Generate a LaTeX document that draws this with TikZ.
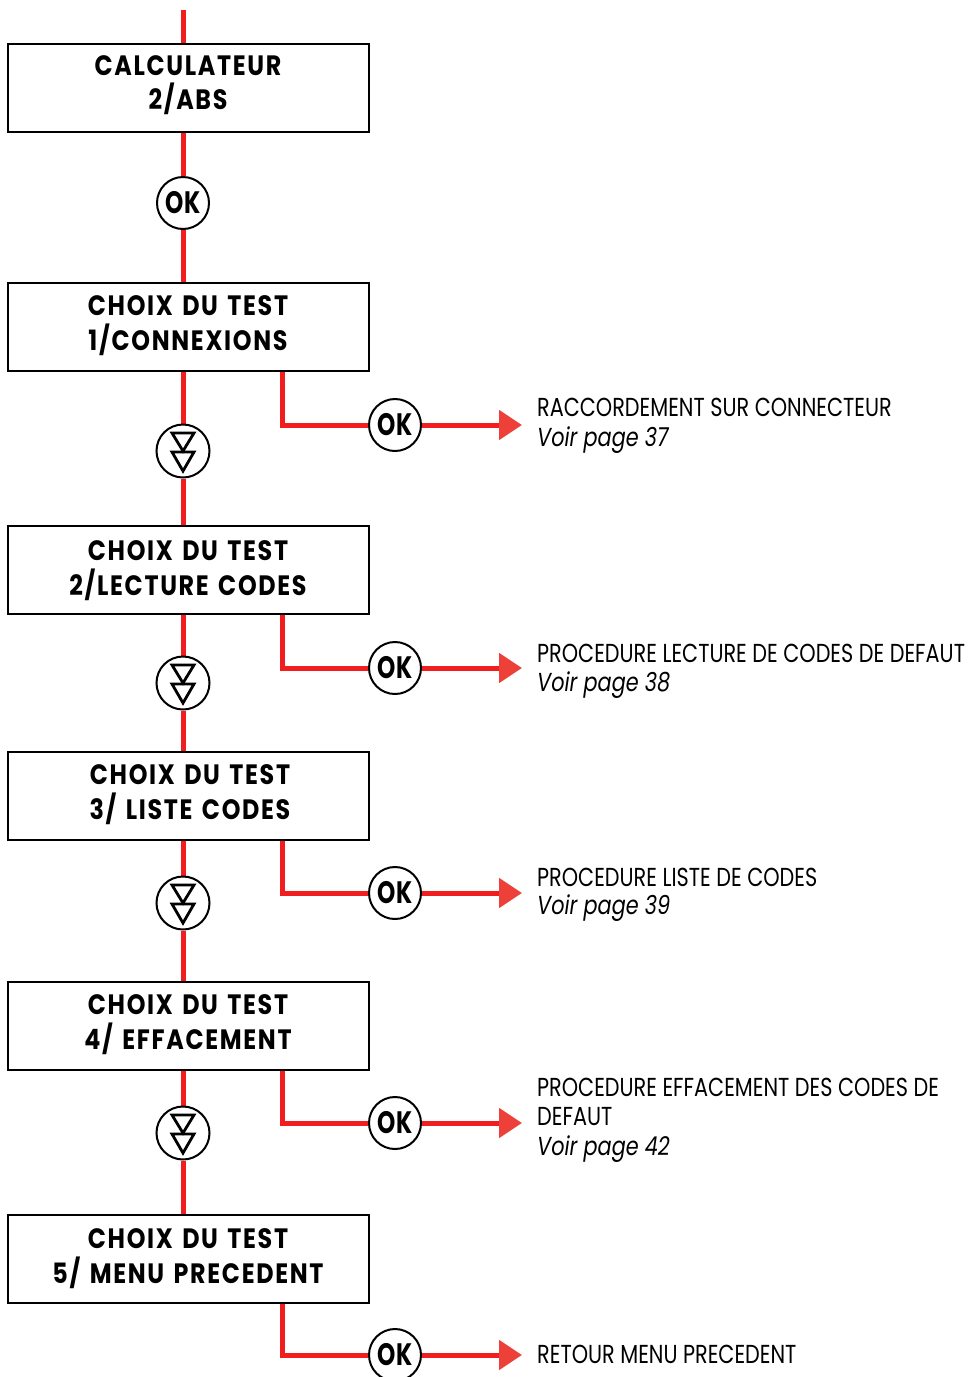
\documentclass[tikz,border=0pt]{standalone}
\usepackage{fontspec}
\usetikzlibrary{arrows.meta,backgrounds}
\newfontfamily\boxfont{Poppins}[FakeStretch=0.85,LetterSpace=6,WordSpace=1.4]
\newfontfamily\okfont{Poppins}[FakeStretch=0.75]
\newfontfamily\sidefont{Poppins}[FakeStretch=0.80]
\definecolor{lred}{RGB}{240,30,30}
\definecolor{ared}{RGB}{236,64,56}
\tikzset{
  redline/.style={draw=lred, line width=5pt},
  boxnode/.style={draw=black, line width=2.8pt, minimum width=361pt, minimum height=88pt, inner sep=0pt},
  btext/.style={anchor=base, inner sep=0pt, font=\boxfont\bfseries\fontsize{28}{30}\selectfont},
  okc/.style={circle, draw=black, line width=2pt, fill=white, minimum size=52pt, inner sep=0pt, font=\okfont\bfseries\fontsize{31}{31}\selectfont},
  dnc/.style={circle, draw=black, line width=2pt, fill=white, minimum size=53pt, inner sep=0pt},
  stext/.style={anchor=base west, inner sep=0pt, font=\sidefont\fontsize{26}{29}\selectfont},
  arr/.style={-{Triangle[length=23pt,width=29pt,color=ared]}},
  trisym/.style={draw=black, line width=2.8pt, line join=miter}
}
\newcommand\dnsym[1]{\begin{scope}[shift={(#1)}]
  \draw[trisym] (-11,-18) -- (11,-18) -- (0,0) -- cycle;
  \draw[trisym] (-11,1) -- (11,1) -- (0,20) -- cycle;
\end{scope}}
\begin{document}
\begin{tikzpicture}[x=1pt,y=-1pt]
\useasboundingbox (0,0) rectangle (968,1377);
% boxes
\node[boxnode] (b1) at (188.5,88) {};
\node[boxnode] (b2) at (188.5,327) {};
\node[boxnode] (b3) at (188.5,570) {};
\node[boxnode] (b4) at (188.5,796) {};
\node[boxnode] (b5) at (188.5,1026) {};
\node[boxnode] (b6) at (188.5,1259) {};
% box texts
\node[btext] (t1a) at (188,75) {CALCULATEUR};
\node[btext] (t1b) at (188,109) {2/ABS};
\node[btext] (t2a) at (188,315) {CHOIX DU TEST};
\node[btext] (t2b) at (188,350) {1/CONNEXIONS};
\node[btext] (t3a) at (188,560) {CHOIX DU TEST};
\node[btext] (t3b) at (188,595) {2/LECTURE CODES};
\node[btext] (t4a) at (190,784) {CHOIX DU TEST};
\node[btext] (t4b) at (190,819) {3/ LISTE CODES};
\node[btext] (t5a) at (188,1014) {CHOIX DU TEST};
\node[btext] (t5b) at (188,1049) {4/ EFFACEMENT};
\node[btext] (t6a) at (188,1248) {CHOIX DU TEST};
\node[btext] (t6b) at (188,1283) {5/ MENU PRECEDENT};
% circles on main line
\node[okc] (ok1) at (183,203) {OK};
\node[dnc] (d1) at (183,451) {};
\node[dnc] (d2) at (183,683) {};
\node[dnc] (d3) at (183,903) {};
\node[dnc] (d4) at (183,1133) {};
\dnsym{d1}
\dnsym{d2}
\dnsym{d3}
\dnsym{d4}
% branch circles
\node[okc] (okA) at (395,425) {OK};
\node[okc] (okB) at (395,668) {OK};
\node[okc] (okC) at (395,893) {OK};
\node[okc] (okD) at (395,1123) {OK};
\node[okc] (okE) at (395,1355) {OK};
% coordinates
\coordinate (start) at (183,10);
\coordinate (br) at (282,0);
\coordinate (tipA) at (522,425);
\coordinate (tipB) at (522,668);
\coordinate (tipC) at (522,893);
\coordinate (tipD) at (522,1123);
\coordinate (tipE) at (522,1355);
% right texts
\node[stext] (rA1) at (537,416) {RACCORDEMENT SUR CONNECTEUR};
\node[stext] (rA2) at (537,446) {\itshape Voir page 37};
\node[stext] (rB1) at (537,662) {PROCEDURE LECTURE DE CODES DE DEFAUT};
\node[stext] (rB2) at (537,691) {\itshape Voir page 38};
\node[stext] (rC1) at (537,886) {PROCEDURE LISTE DE CODES};
\node[stext] (rC2) at (537,914) {\itshape Voir page 39};
\node[stext] (rD1) at (537,1096) {PROCEDURE EFFACEMENT DES CODES DE};
\node[stext] (rD2) at (537,1125) {DEFAUT};
\node[stext] (rD3) at (537,1155) {\itshape Voir page 42};
\node[stext] (rE1) at (537,1363) {RETOUR MENU PRECEDENT};
% connectors
\begin{scope}[on background layer]
\draw[redline] (start) -- (b1.north -| start);
\draw[redline] (b1.south -| ok1) -- (ok1.north);
\draw[redline] (ok1.south) -- (b2.north -| ok1);
\draw[redline] (b2.south -| d1) -- (d1.north);
\draw[redline] (d1.south) -- (b3.north -| d1);
\draw[redline] (b3.south -| d2) -- (d2.north);
\draw[redline] (d2.south) -- (b4.north -| d2);
\draw[redline] (b4.south -| d3) -- (d3.north);
\draw[redline] (d3.south) -- (b5.north -| d3);
\draw[redline] (b5.south -| d4) -- (d4.north);
\draw[redline] (d4.south) -- (b6.north -| d4);
\draw[redline] (b2.south -| br) |- (okA.west);
\draw[redline] (b3.south -| br) |- (okB.west);
\draw[redline] (b4.south -| br) |- (okC.west);
\draw[redline] (b5.south -| br) |- (okD.west);
\draw[redline] (b6.south -| br) |- (okE.west);
\draw[redline,arr] (okA.east) -- (tipA);
\draw[redline,arr] (okB.east) -- (tipB);
\draw[redline,arr] (okC.east) -- (tipC);
\draw[redline,arr] (okD.east) -- (tipD);
\draw[redline,arr] (okE.east) -- (tipE);
\end{scope}
\end{tikzpicture}
\end{document}
